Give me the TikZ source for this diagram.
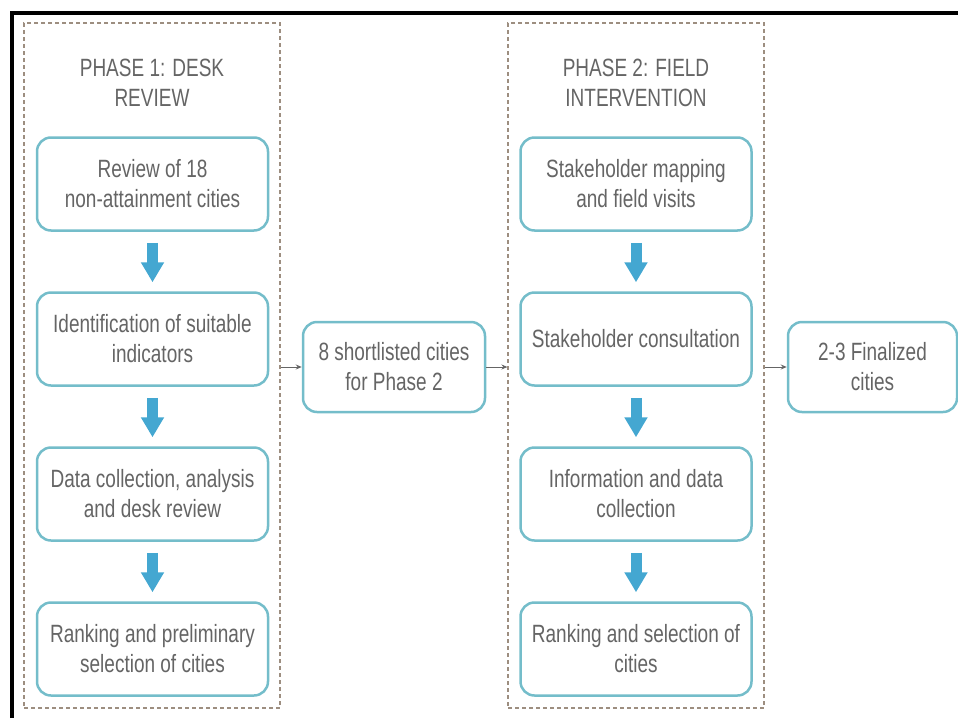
\documentclass[tikz,border=0pt]{standalone}
\usepackage{fontspec}
\setmainfont{Liberation Sans}[FakeStretch=0.76]
\usepackage{xcolor}
\usetikzlibrary{arrows.meta}

\definecolor{boxline}{HTML}{74BDCA}
\definecolor{txtgray}{HTML}{656565}
\definecolor{arrowblue}{HTML}{44A7D1}
\definecolor{frameline}{HTML}{9D8E80}

\begin{document}
\begin{tikzpicture}[x=1pt,y=-1pt,
    txt/.style={text=txtgray,font=\fontsize{25}{30}\selectfont,align=center},
    stepbox/.style={txt,draw=boxline,line width=2.5pt,rounded corners=14pt,fill=white,
        minimum width=231pt,minimum height=93pt,inner sep=0pt},
    resultbox/.style={stepbox,minimum height=90pt},
    phaseframe/.style={draw=frameline,line width=1.1pt,dash pattern=on 4pt off 3pt,
        minimum width=256pt,minimum height=685pt,inner sep=0pt},
    fatarrow/.style={arrowblue,line width=11pt,shorten <=11pt,shorten >=9pt,
        -{Triangle[length=20pt,width=22pt]}},
    thinarrow/.style={txtgray,line width=1pt,-{Stealth[length=6pt,width=5pt]}}]
    \useasboundingbox (0,0) rectangle (958,718);

    % 定义点变量
    \coordinate (P) at (152,0);
    \coordinate (Q) at (636,0);

    % 黑色边线
    \draw[line width=4pt] (12,718) -- (12,13) -- (960,13);

    % 两个阶段的虚线框
    \node[phaseframe] (p1) at (152,365.5) {};
    \node[phaseframe] (p2) at (636,365.5) {};
    \node[txt] (t1) at (152,83) {PHASE 1: DESK\\REVIEW};
    \node[txt] (t2) at (636,83) {PHASE 2: FIELD\\INTERVENTION};

    % 第一阶段
    \node[stepbox] (a1) at (152.5,184) {Review of 18\\non-attainment cities};
    \node[stepbox] (a2) at (152.5,339) {Identification of suitable\\indicators};
    \node[stepbox] (a3) at (152.5,494) {Data collection, analysis\\and desk review};
    \node[stepbox] (a4) at (152.5,649) {Ranking and preliminary\\selection of cities};

    % 第二阶段
    \node[stepbox] (b1) at (636,184) {Stakeholder mapping\\and field visits};
    \node[stepbox] (b2) at (636,339) {Stakeholder consultation};
    \node[stepbox] (b3) at (636,494) {Information and data\\collection};
    \node[stepbox] (b4) at (636,649) {Ranking and selection of\\cities};

    % 结果
    \node[resultbox,minimum width=182pt] (m) at (394,367) {8 shortlisted cities\\for Phase 2};
    \node[resultbox,minimum width=169pt] (r) at (872.5,367) {2-3 Finalized\\cities};

    % 使用变量连线
    \draw[fatarrow] (a1) -- (a2);
    \draw[fatarrow] (a2) -- (a3);
    \draw[fatarrow] (a3) -- (a4);
    \draw[fatarrow] (b1) -- (b2);
    \draw[fatarrow] (b2) -- (b3);
    \draw[fatarrow] (b3) -- (b4);
    \draw[thinarrow] (p1.east |- m) -- (m);
    \draw[thinarrow] (m) -- (p2.west |- m);
    \draw[thinarrow] (p2.east |- r) -- (r);

\end{tikzpicture}
\end{document}
